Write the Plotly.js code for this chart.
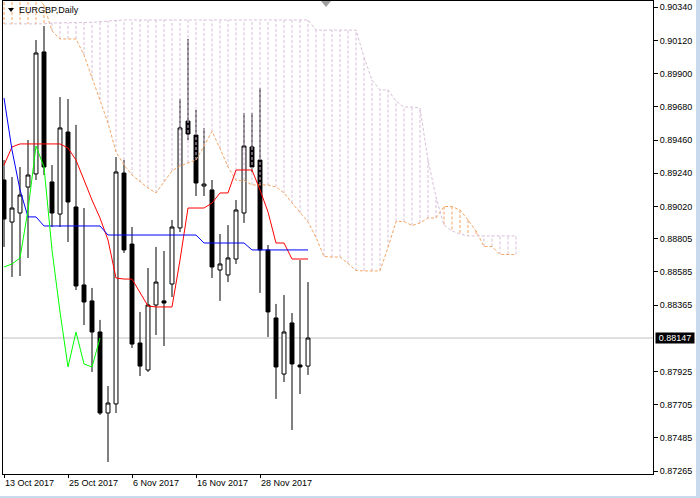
<!DOCTYPE html>
<html><head><meta charset="utf-8">
<script src="https://cdn.plot.ly/plotly-3.0.1.min.js"></script>
<style>html,body{margin:0;padding:0;background:#fff}#chart{width:700px;height:498px}</style>
</head><body><div id="chart"></div>
<script>
// ---- data (EURGBP, Daily, 13 Oct 2017 - 6 Dec 2017) ----
const xTickIdx = [0, 8, 16, 24, 32];
const xTickText = ['13 Oct 2017', '25 Oct 2017', '6 Nov 2017', '16 Nov 2017', '28 Nov 2017'];
const yTickVals = [0.90340, 0.90120, 0.89900, 0.89680, 0.89460, 0.89240, 0.89020, 0.88805,
                   0.88585, 0.88365, 0.87925, 0.87705, 0.87485, 0.87265];
const yTickText = ['0.90340', '0.90120', '0.89900', '0.89680', '0.89460', '0.89240', '0.89020', '0.88805',
                   '0.88585', '0.88365', '0.87925', '0.87705', '0.87485', '0.87265'];
const lastPrice = 0.88147;
const lastPriceText = '0.88147';
const symbolText = 'EURGBP,Daily';

const openP  = [0.89195,0.88916,0.88976,0.89148,0.89235,0.90044,0.89182,0.88969,0.89513,0.89016,
                0.88499,0.88393,0.88187,0.87650,0.87710,0.89241,0.88770,0.88114,0.87935,0.88366,
                0.88393,0.88505,0.88877,0.89586,0.89493,0.89155,0.89129,0.88598,0.88565,0.88671,
                0.88976,0.89414,0.89327,0.88731,0.88280,0.87908,0.88247,0.87968,0.87961];
const highP  = [0.89327,0.89215,0.89281,0.89460,0.90123,0.90216,0.89294,0.89745,0.89732,0.89560,
                0.89009,0.88479,0.88267,0.87829,0.89347,0.89327,0.88883,0.88320,0.88611,0.88751,
                0.88724,0.88930,0.89732,0.90130,0.89659,0.89540,0.89195,0.88837,0.88896,0.89062,
                0.89639,0.89639,0.89805,0.88764,0.88373,0.88432,0.88313,0.88664,0.88518];
const lowP   = [0.88751,0.88552,0.88558,0.88678,0.89195,0.89228,0.88883,0.88883,0.88784,0.88465,
                0.88233,0.87922,0.87637,0.87325,0.87650,0.88711,0.88081,0.87895,0.87922,0.88167,
                0.88094,0.88419,0.88850,0.89460,0.89089,0.89089,0.88545,0.88393,0.88518,0.88638,
                0.88910,0.89248,0.88446,0.88154,0.87743,0.87855,0.87537,0.87776,0.87902];
const closeP = [0.88936,0.89009,0.89095,0.89228,0.90037,0.89281,0.88976,0.89540,0.89049,0.88492,
                0.88386,0.88187,0.87650,0.87716,0.89248,0.88731,0.88107,0.87961,0.88366,0.88518,
                0.88379,0.88883,0.89540,0.89500,0.89175,0.89168,0.88618,0.88638,0.88678,0.88996,
                0.89420,0.89281,0.88731,0.88320,0.87955,0.88187,0.87975,0.87955,0.88147];

const tenkan = [0.89294,0.89414,0.89434,0.89434,0.89434,0.89434,0.89434,0.89434,0.89407,0.89327,
                0.89195,0.89062,0.88943,0.88797,0.88545,0.88538,0.88538,0.88452,0.88359,0.88353,
                0.88353,0.88353,0.88664,0.89009,0.89009,0.89009,0.89042,0.89109,0.89109,0.89261,
                0.89261,0.89261,0.89129,0.88983,0.88777,0.88777,0.88671,0.88671,0.88671];
const kijun  = [0.89739,0.89394,0.89129,0.88950,0.88950,0.88890,0.88890,0.88890,0.88890,0.88890,
                0.88890,0.88890,0.88890,0.88830,0.88830,0.88830,0.88830,0.88830,0.88830,0.88830,
                0.88830,0.88830,0.88830,0.88830,0.88830,0.88777,0.88777,0.88777,0.88777,0.88777,
                0.88777,0.88731,0.88731,0.88731,0.88731,0.88731,0.88731,0.88731,0.88731];
// Senkou spans, 65 bars (39 + 26 shifted forward)
const spanA  = [0.90408,0.90408,0.90408,0.90408,0.90408,0.90355,0.90183,0.90130,0.90130,0.90130,
                0.90024,0.89871,0.89725,0.89573,0.89381,0.89294,0.89228,0.89182,0.89142,0.89109,
                0.89182,0.89255,0.89288,0.89308,0.89327,0.89420,0.89517,0.89404,0.89282,0.89192,
                0.89192,0.89162,0.89162,0.89162,0.89149,0.89109,0.89043,0.88976,0.88917,0.88814,
                0.88688,0.88684,0.88684,0.88641,0.88595,0.88592,0.88592,0.88592,0.88747,0.88920,
                0.88920,0.88893,0.88910,0.88943,0.88943,0.89019,0.89019,0.88996,0.88930,0.88857,
                0.88754,0.88754,0.88701,0.88701,0.88701];
const spanB  = [0.90230,0.90230,0.90230,0.90230,0.90230,0.90230,0.90236,0.90236,0.90236,0.90236,
                0.90236,0.90240,0.90245,0.90250,0.90256,0.90256,0.90256,0.90256,0.90256,0.90256,
                0.90256,0.90256,0.90256,0.90256,0.90256,0.90256,0.90256,0.90256,0.90256,0.90256,
                0.90256,0.90256,0.90256,0.90256,0.90256,0.90256,0.90256,0.90256,0.90256,0.90189,
                0.90189,0.90189,0.90189,0.90189,0.90189,0.90010,0.89858,0.89792,0.89792,0.89718,
                0.89679,0.89679,0.89672,0.89327,0.89082,0.88896,0.88857,0.88837,0.88824,0.88824,
                0.88824,0.88824,0.88824,0.88824,0.88824];
const chikouShift = 26;

// ---- build traces ----
const idx = openP.map((_, i) => i);
const cloudIdx = spanA.map((_, i) => i);
const chikouY = closeP.slice(chikouShift);
const chikouX = chikouY.map((_, i) => i);

const hatchBear = {x: [], y: []}, hatchBull = {x: [], y: []};
cloudIdx.forEach(i => {
  const t = spanB[i] > spanA[i] ? hatchBear : hatchBull;
  t.x.push(i, i, null); t.y.push(spanA[i], spanB[i], null);
});

const FONT = 'Liberation Sans, Arial, sans-serif';
const dash = '3px,2px';
const traces = [
  {type: 'candlestick', x: idx, open: openP, high: highP, low: lowP, close: closeP,
   increasing: {line: {color: '#000', width: 1}, fillcolor: '#fff'},
   decreasing: {line: {color: '#000', width: 1}, fillcolor: '#000'},
   whiskerwidth: 0, hoverinfo: 'skip', showlegend: false},
  {type: 'scatter', mode: 'lines', x: hatchBear.x, y: hatchBear.y, connectgaps: false,
   line: {color: '#D8BFD8', width: 1, dash: dash}, hoverinfo: 'skip', showlegend: false},
  {type: 'scatter', mode: 'lines', x: hatchBull.x, y: hatchBull.y, connectgaps: false,
   line: {color: '#F4A460', width: 1, dash: dash}, hoverinfo: 'skip', showlegend: false},
  {type: 'scatter', mode: 'lines', x: cloudIdx, y: spanA,
   line: {color: '#F4A460', width: 1, dash: dash}, hoverinfo: 'skip', showlegend: false},
  {type: 'scatter', mode: 'lines', x: cloudIdx, y: spanB,
   line: {color: '#D8BFD8', width: 1, dash: dash}, hoverinfo: 'skip', showlegend: false},
  {type: 'scatter', mode: 'lines', x: idx, y: tenkan,
   line: {color: '#FF0000', width: 1}, hoverinfo: 'skip', showlegend: false},
  {type: 'scatter', mode: 'lines', x: idx, y: kijun,
   line: {color: '#0000FF', width: 1}, hoverinfo: 'skip', showlegend: false},
  {type: 'scatter', mode: 'lines', x: chikouX, y: chikouY,
   line: {color: '#00FF00', width: 1}, hoverinfo: 'skip', showlegend: false}
];

// plot area in pixels: x 3..653, y 1..474
const px = x => (x - 3) / 650;
const py = y => (474 - y) / 473;

const layout = {
  width: 700, height: 498,
  margin: {l: 3, r: 47, t: 1, b: 24, pad: 0},
  paper_bgcolor: '#fff', plot_bgcolor: '#fff',
  showlegend: false, hovermode: false, dragmode: false,
  font: {family: FONT, size: 9, color: '#000'},
  xaxis: {
    range: [-0.125, 81.125], fixedrange: true,
    showgrid: false, zeroline: false, showline: true, linecolor: '#000', linewidth: 1, mirror: true,
    ticks: 'outside', ticklen: 3, tickcolor: '#000', tickwidth: 1,
    tickmode: 'array', tickvals: xTickIdx, ticktext: xTickText,
    ticklabelposition: 'outside right',
    tickfont: {family: FONT, size: 9, color: '#000'},
    rangeslider: {visible: false}
  },
  yaxis: {
    side: 'right',
    range: [0.872453, 0.903818], fixedrange: true,
    showgrid: false, zeroline: false, showline: true, linecolor: '#000', linewidth: 1, mirror: true,
    ticks: 'outside', ticklen: 4, tickcolor: '#000', tickwidth: 1,
    tickmode: 'array', tickvals: yTickVals, ticktext: yTickText,
    tickfont: {family: FONT, size: 9, color: '#000'}
  },
  shapes: [
    {type: 'line', xref: 'paper', yref: 'y', x0: 0, x1: 1, y0: lastPrice, y1: lastPrice,
     line: {color: '#C0C0C0', width: 1}, layer: 'below'},
    {type: 'path', xref: 'paper', yref: 'paper',
     path: `M ${px(8)} ${py(8)} L ${px(14)} ${py(8)} L ${px(11)} ${py(12)} Z`,
     fillcolor: '#000', line: {width: 0}},
    {type: 'path', xref: 'paper', yref: 'paper',
     path: `M ${px(321)} ${py(1)} L ${px(331)} ${py(1)} L ${px(326)} ${py(7)} Z`,
     fillcolor: '#A0A0A0', line: {width: 0}},
    {type: 'rect', xref: 'paper', yref: 'paper', x0: px(696), x1: px(700), y0: py(498), y1: py(0),
     fillcolor: '#C9DAEE', line: {width: 0}},
    {type: 'rect', xref: 'paper', yref: 'paper', x0: px(0), x1: px(696), y0: py(498), y1: py(496),
     fillcolor: '#C9DAEE', line: {width: 0}}
  ],
  annotations: [
    {xref: 'paper', yref: 'paper', x: px(17), y: py(10), xanchor: 'left', yanchor: 'middle',
     text: symbolText, showarrow: false, font: {family: FONT, size: 9, color: '#000'}},
    {xref: 'paper', yref: 'y', x: px(655), y: lastPrice, xanchor: 'left', yanchor: 'middle',
     text: lastPriceText, showarrow: false, bgcolor: '#000', width: 38, height: 10, borderpad: 0,
     align: 'center', font: {family: FONT, size: 9, color: '#fff'}}
  ]
};

Plotly.newPlot('chart', traces, layout, {staticPlot: true, displayModeBar: false});
</script>
</body></html>
